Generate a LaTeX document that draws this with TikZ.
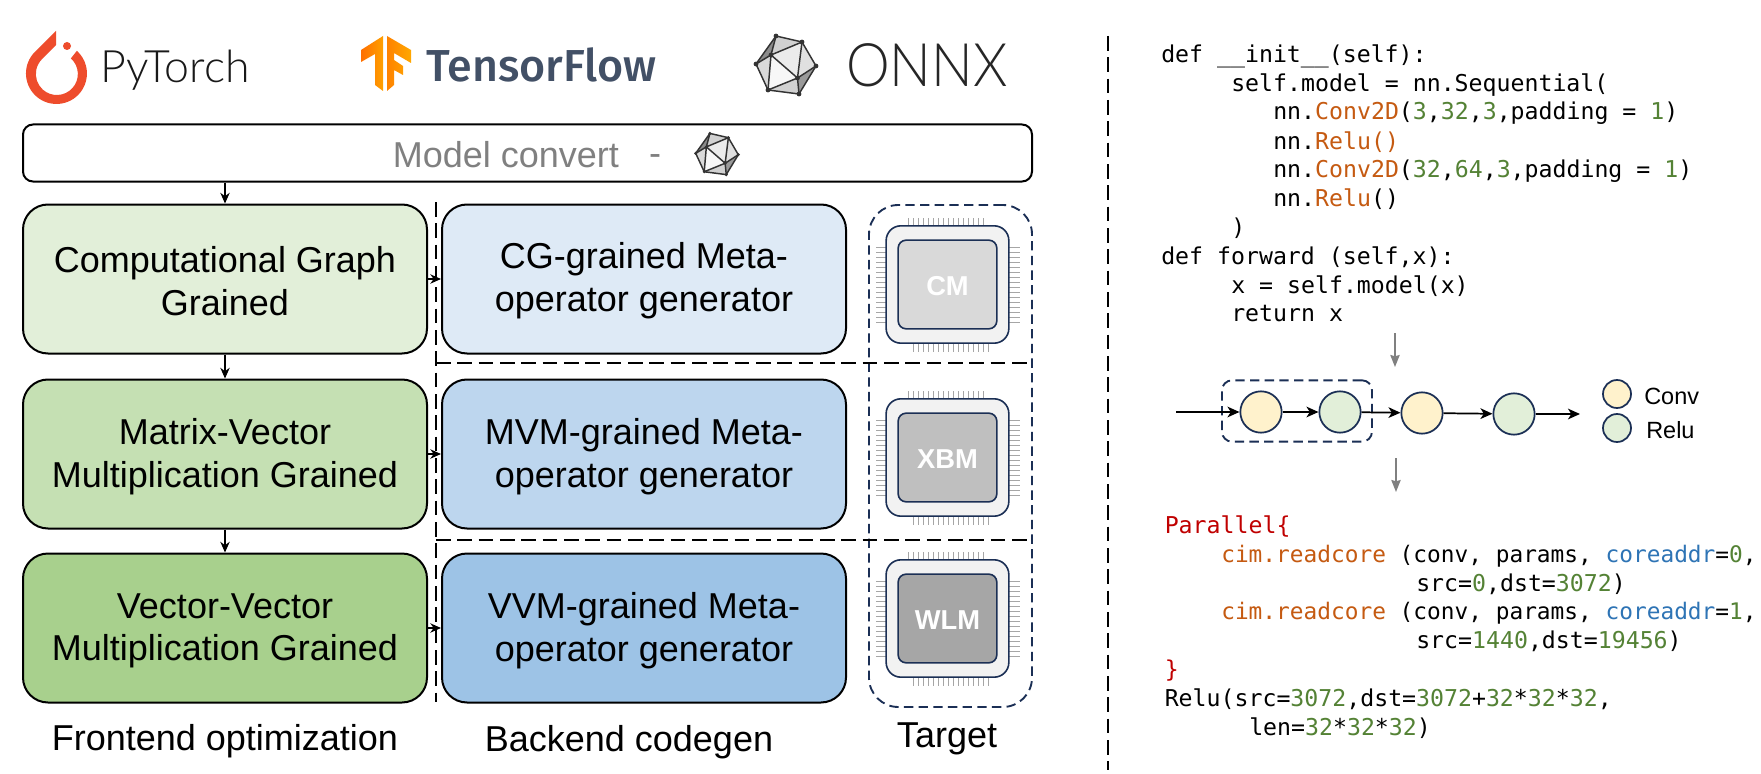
\documentclass[tikz,border=0pt]{standalone}
\usepackage{fontspec}
\usetikzlibrary{arrows.meta,shapes.geometric,calc}
\setmainfont{Liberation Sans}
\newfontfamily\codefont{DejaVu Sans Mono}
\newfontfamily\latofont{Lato Light}
\newfontfamily\tffont{Fira Sans Medium}
\definecolor{navy}{HTML}{1B2F55}
\definecolor{gA}{HTML}{E2EFD9}\definecolor{gB}{HTML}{C5E0B3}\definecolor{gC}{HTML}{A8D08D}
\definecolor{bA}{HTML}{DEEAF6}\definecolor{bB}{HTML}{BDD6EE}\definecolor{bC}{HTML}{9DC3E6}
\definecolor{cOr}{HTML}{C55A11}\definecolor{cGr}{HTML}{548235}\definecolor{cBl}{HTML}{2E74B5}\definecolor{cRe}{HTML}{C00000}
\definecolor{conv}{HTML}{FFF2CC}\definecolor{pt}{HTML}{EE4C2C}\definecolor{tftext}{HTML}{425066}
\definecolor{tfA}{HTML}{FF6F00}\definecolor{tfB}{HTML}{FFA000}\definecolor{tfC}{HTML}{FF8200}\definecolor{tfD}{HTML}{FFA800}
\newcommand\og[1]{\textcolor{cOr}{#1}}
\newcommand\gn[1]{\textcolor{cGr}{#1}}
\newcommand\bl[1]{\textcolor{cBl}{#1}}
\newcommand\rd[1]{\textcolor{cRe}{#1}}
\tikzset{
  big/.style={font=\fontsize{27}{32}\selectfont,align=center},
  flowbox/.style={draw=black,line width=1.5pt,rounded corners=18.75pt,minimum width=303pt,minimum height=111.75pt,inner sep=0pt,big},
  flowtext/.style={big,inner sep=0pt},
  codeline/.style={anchor=base west,inner sep=0pt,font=\codefont\fontsize{17.4}{20}\selectfont},
  codewide/.style={anchor=base west,inner sep=0pt,font=\codefont\fontsize{17.1}{20}\selectfont},
  arr/.style={-{Stealth[length=8pt,width=7pt,inset=2.5pt]},line width=1.1pt,black},
  graydown/.style={-{Stealth[length=9pt,width=7pt,inset=1pt]},line width=1.1pt,color=black!50},
  flowarr/.style={-{Stealth[length=9pt,width=8pt,inset=2.5pt]},line width=1.3pt,black},
  sepdash/.style={line width=1.5pt,black,dash pattern=on 11pt off 5pt},
  navydash/.style={draw=navy,line width=1.4pt,dash pattern=on 7pt off 4pt},
  opcircle/.style={circle,draw=navy,line width=1.3pt,minimum size=31pt,inner sep=0pt},
  legcircle/.style={circle,draw=navy,line width=1.3pt,minimum size=21pt,inner sep=0pt},
  outerchip/.style={draw=navy,line width=1.2pt,fill=black!5,rounded corners=11pt,minimum width=92pt,minimum height=88pt,inner sep=0pt},
  innerchip/.style={draw=navy,line width=1.2pt,rounded corners=6pt,minimum width=74pt,minimum height=66.5pt,inner sep=0pt},
  chiplabel/.style={text=white,inner sep=0pt,font=\bfseries\fontsize{20.5}{24}\selectfont},
  pin/.style={draw=black!35,line width=0.55pt},
  onnxline/.style={draw=black!80,line width=1.1pt,line join=round},
  pics/onnxicon/.style={code={
    \coordinate (A) at (-10,-29);\coordinate (B) at (16,-23);\coordinate (C) at (30,1);
    \coordinate (D) at (13,29);\coordinate (E) at (-18,25);\coordinate (F) at (-30,-1);
    \coordinate (G) at (-15,-10);\coordinate (H) at (11.5,13);
    \fill[black!18] (A)--(B)--(G)--cycle;
    \fill[black!45] (A)--(G)--(F)--cycle;
    \fill[black!12] (B)--(C)--(H)--cycle;
    \fill[black!8]  (G)--(B)--(H)--cycle;
    \fill[black!3]  (G)--(H)--(E)--cycle;
    \fill[black!15] (F)--(G)--(E)--cycle;
    \fill[black!18] (E)--(H)--(D)--cycle;
    \fill[black!40] (H)--(C)--(D)--cycle;
    \draw[onnxline] (A)--(B)--(C)--(D)--(E)--(F)--cycle;
    \draw[onnxline] (G)--(A) (G)--(F) (G)--(B) (G)--(H) (G)--(E) (H)--(E) (H)--(B) (H)--(C) (H)--(D);
    \foreach \p in {A,B,C,D,E,F,G,H}{\fill[black!80] (\p) circle[radius=2.4];}
  }}
}
\newcommand\chip[4]{% top y, name, inner fill, label
  \foreach \i in {0,...,15}{
    \draw[pin] ({908+5*\i},{#1-8}) -- ({908+5*\i},#1);
    \draw[pin] ({913+5*\i},{#1+117}) -- ({913+5*\i},{#1+126});
    \draw[pin] (876,{#1+21+5*\i}) -- (886,{#1+21+5*\i});
    \draw[pin] (1009,{#1+21+5*\i}) -- (1020,{#1+21+5*\i});
  }
  \node[outerchip] (#2o) at (947.5,{#1+58.5}) {};
  \node[innerchip,fill=#3] (#2i) at (947.5,{#1+58.5}) {};
  \node[chiplabel] (#2t) at (947.5,{#1+60}) {#4};
}
\begin{document}
\begin{tikzpicture}[x=0.75pt,y=-0.75pt]
\useasboundingbox[fill=white] (0,0) rectangle (1761,774);

% PyTorch logo
\fill[pt] (56,31) -- (34.9,51.9) arc[start angle=225,end angle=-48,radius=30.5]
  -- (70.9,58.4) arc[start angle=-48,end angle=225,radius=21] -- (56,45) -- cycle;
\fill[pt] (67,46) circle[radius=4];
\node[anchor=base west,inner sep=0pt,text=black!90,font=\latofont\fontsize{33.5}{36}\selectfont] (ptname) at (100,83) {PyTorch};

% TensorFlow logo
\shade[left color=tfA,right color=tfB]
  (383,36) -- (361,50) -- (361,62) -- (375,54) -- (375,85) -- (383,91) -- cycle;
\shade[left color=tfC,right color=tfD]
  (387,36) -- (411,50) -- (411,63) -- (394,53) -- (394,60) -- (403,66) -- (403,75) -- (394,70) -- (394,85) -- (387,91) -- cycle;
\node[anchor=base west,inner sep=0pt,text=tftext,font=\tffont\fontsize{33.6}{36}\selectfont] (tfname) at (426,82) {TensorFlow};

% ONNX logo
\pic at (786,65) {onnxicon};
\node[anchor=base west,inner sep=0pt,text=black!85,xscale=0.92,font=\latofont\fontsize{45}{50}\selectfont] (onnxname) at (846,87) {ONNX};

% Model convert
\node[draw=black,line width=1.5pt,rounded corners=7.5pt,minimum width=756.75pt,minimum height=42.75pt,inner sep=0pt] (mc) at (527.5,153) {};
\node[big,text=black!50] (mct) at (506,155) {Model convert};
\node[big,text=black!50] (mcd) at (655,160) {-};
\pic[scale=0.71] at (717,154) {onnxicon};

% Target region
\node[navydash,rounded corners=22pt,minimum width=122.25pt,minimum height=376.5pt,inner sep=0pt] (target) at (950.5,456) {};

% Flow boxes
\node[flowbox,fill=gA] (g1) at (225,279) {};
\node[flowbox,fill=gB] (g2) at (225,454) {};
\node[flowbox,fill=gC] (g3) at (225,628) {};
\node[flowbox,fill=bA] (b1) at (644,279) {};
\node[flowbox,fill=bB] (b2) at (644,454) {};
\node[flowbox,fill=bC] (b3) at (644,628) {};
\node[flowtext] (g1t) at (225,281) {Computational Graph\\Grained};
\node[flowtext] (g2t) at (225,457) {Matrix-Vector\\Multiplication Grained};
\node[flowtext] (g3t) at (225,631) {Vector-Vector\\Multiplication Grained};
\node[flowtext] (b1t) at (644,281) {CG-grained Meta-\\operator generator};
\node[flowtext] (b2t) at (644,457) {MVM-grained Meta-\\operator generator};
\node[flowtext] (b3t) at (644,631) {VVM-grained Meta-\\operator generator};

% Chips
\chip{226}{c1}{black!15}{CM}
\chip{399}{c2}{black!25}{XBM}
\chip{560}{c3}{black!35}{WLM}

% Separators
\coordinate (sepT) at (436,202);\coordinate (sepB) at (436,702);
\coordinate (hAl) at (436,363);\coordinate (hAr) at (1028,363);
\coordinate (hBl) at (436,540);\coordinate (hBr) at (1028,540);
\coordinate (divT) at (1108,36);\coordinate (divB) at (1108,770);
\draw[sepdash] (sepT) -- (sepB);
\draw[sepdash] (hAl) -- (hAr);
\draw[sepdash] (hBl) -- (hBr);
\draw[sepdash] (divT) -- (divB);

% Arrows
\draw[arr] (g1.north |- mc.south) -- (g1.north);
\draw[arr] (g1.south) -- (g2.north);
\draw[arr] (g2.south) -- (g3.north);
\draw[arr] (g1.east) -- (b1.west);
\draw[arr] (g2.east) -- (b2.west);
\draw[arr] (g3.east) -- (b3.west);

% Bottom labels
\node[big] (l1) at (225,741) {Frontend optimization};
\node[big] (l2) at (629,742) {Backend codegen};
\node[big] (l3) at (947,739) {Target};

% Code top
\node[codeline] (t1) at (1161,62.5) {def \_\_init\_\_(self):};
\node[codeline] (t2) at (1231,91.5) {self.model = nn.Sequential(};
\node[codeline] (t3) at (1273,120) {nn.\og{Conv2D}(\gn{3},\gn{32},\gn{3},padding = \gn{1})};
\node[codeline] (t4) at (1273,149) {nn.\og{Relu()}};
\node[codeline] (t5) at (1273,177.5) {nn.\og{Conv2D}(\gn{32},\gn{64},\gn{3},padding = \gn{1})};
\node[codeline] (t6) at (1273,206.5) {nn.\og{Relu}()};
\node[codeline] (t7) at (1231,235) {)};
\node[codeline] (t8) at (1161,264) {def forward (self,x):};
\node[codeline] (t9) at (1231,293) {x = self.model(x)};
\node[codeline] (t10) at (1231,321.5) {return x};

% Gray arrows
\coordinate (gaT) at (1395,333);\coordinate (gaB) at (1395,367);
\coordinate (gbT) at (1396,458);\coordinate (gbB) at (1396,492);
\draw[graydown] (gaT) -- (gaB);
\draw[graydown] (gbT) -- (gbB);

% Graph
\node[navydash,rounded corners=7.5pt,minimum width=112.5pt,minimum height=46pt,inner sep=0pt] (grp) at (1297,411) {};
\node[opcircle,fill=conv] (n1) at (1261,412) {};
\node[opcircle,fill=gA] (n2) at (1340,412) {};
\node[opcircle,fill=conv] (n3) at (1422,413) {};
\node[opcircle,fill=gA] (n4) at (1514,414) {};
\coordinate (gin) at (1176,412);\coordinate (gout) at (1580,414);
\draw[flowarr] (gin) -- (n1);
\draw[flowarr] (n1) -- (n2);
\draw[flowarr] (n2) -- (n3);
\draw[flowarr] (n3) -- (n4);
\draw[flowarr] (n4) -- (gout);
\node[legcircle,fill=conv] (lc) at (1617,394) {};
\node[legcircle,fill=gA] (lr) at (1617,428) {};
\node[anchor=west,inner sep=0pt,font=\fontsize{17.6}{20}\selectfont] (lct) at (1644,396) {Conv};
\node[anchor=west,inner sep=0pt,font=\fontsize{17.6}{20}\selectfont] (lrt) at (1646,430) {Relu};

% Code bottom
\node[codeline] (p1) at (1164.5,533) {\rd{Parallel\{}};
\node[codewide] (p2) at (1221,562) {\og{cim.readcore} (conv, params, \bl{coreaddr}=\gn{0},};
\node[codeline] (p3) at (1416,591) {src=\gn{0},dst=\gn{3072})};
\node[codewide] (p4) at (1221,619) {\og{cim.readcore} (conv, params, \bl{coreaddr}=\gn{1},};
\node[codeline] (p5) at (1416,648) {src=\gn{1440},dst=\gn{19456})};
\node[codeline] (p6) at (1164.5,677) {\rd{\}}};
\node[codeline] (p7) at (1164.5,706) {Relu(src=\gn{3072},dst=\gn{3072}+\gn{32}*\gn{32}*\gn{32},};
\node[codeline] (p8) at (1249,735) {len=\gn{32}*\gn{32}*\gn{32})};
\end{tikzpicture}
\end{document}
